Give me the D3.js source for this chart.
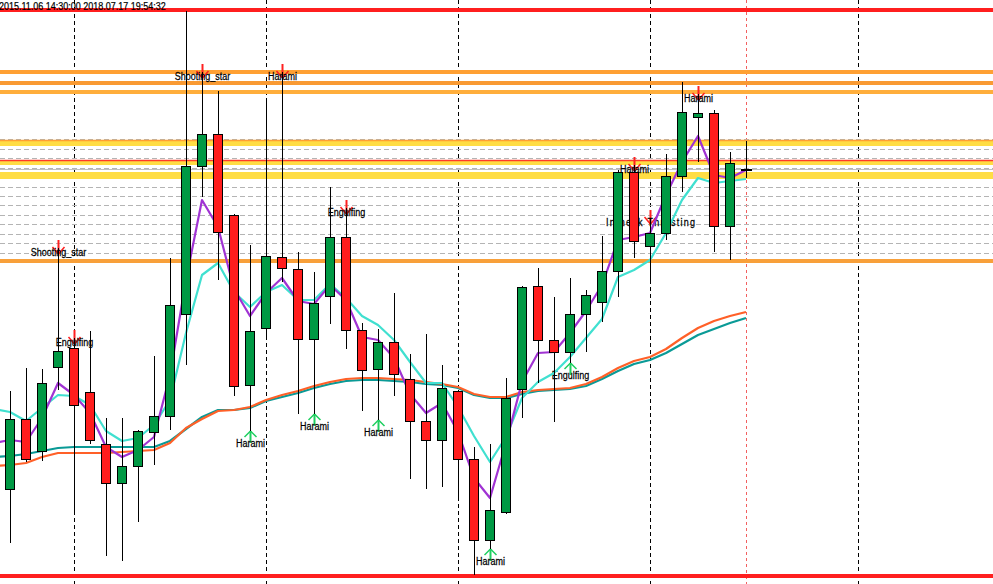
<!DOCTYPE html>
<html>
<head>
<meta charset="utf-8">
<script src="https://cdn.jsdelivr.net/npm/d3@7"></script>
<style>
  html, body { margin: 0; padding: 0; background: #fff; overflow: hidden; }
  svg { display: block; }
  text { font-family: "Liberation Sans", Arial, sans-serif; font-size: 11px; fill: #000; }
</style>
</head>
<body>
<div id="chart"></div>
<script>
// ---- Data (prices) ----
const openP  = [1.1511,1.1581,1.1549,1.1633,1.1652,1.1608,1.1556,1.1517,1.1534,1.1568,
                1.1584,1.1686,1.1834,1.1866,1.1785,1.1615,1.1672,1.1743,1.1731,1.1661,
                1.1704,1.1763,1.1670,1.1631,1.1658,1.1621,1.1579,1.1560,1.1609,1.1541,
                1.1460,1.1488,1.1611,1.1714,1.1660,1.1648,1.1686,1.1698,1.1729,1.1828,
                1.1754,1.1767,1.1824,1.1883,1.1887,1.1774,1.1830];
const highP  = [1.1609,1.1632,1.1631,1.1752,1.1662,1.1669,1.1582,1.1582,1.1570,1.1644,
                1.1742,1.1989,1.1928,1.1909,1.1786,1.1755,1.1899,1.1928,1.1748,1.1728,
                1.1813,1.1792,1.1677,1.1671,1.1707,1.1646,1.1666,1.1635,1.1610,1.1553,
                1.1556,1.1622,1.1714,1.1732,1.1703,1.1722,1.1710,1.1764,1.1830,1.1835,
                1.1782,1.1846,1.1918,1.1906,1.1890,1.1848,1.1859];
const lowP   = [1.1457,1.1538,1.1539,1.1610,1.1488,1.1556,1.1444,1.1439,1.1478,1.1535,
                1.1570,1.1635,1.1803,1.1720,1.1604,1.1569,1.1662,1.1718,1.1586,1.1586,
                1.1676,1.1651,1.1589,1.1580,1.1604,1.1521,1.1511,1.1513,1.1501,1.1425,
                1.1451,1.1486,1.1582,1.1617,1.1578,1.1637,1.1648,1.1678,1.1703,1.1742,
                1.1717,1.1760,1.1808,1.1838,1.1748,1.1740,1.1822];
const closeP = [1.1581,1.1541,1.1617,1.1649,1.1595,1.1560,1.1517,1.1534,1.1569,1.1584,
                1.1695,1.1834,1.1866,1.1768,1.1614,1.1669,1.1744,1.1732,1.1661,1.1697,
                1.1763,1.1670,1.1630,1.1658,1.1626,1.1579,1.1560,1.1612,1.1541,1.1460,
                1.1490,1.1602,1.1713,1.1660,1.1648,1.1686,1.1705,1.1729,1.1828,1.1759,
                1.1767,1.1824,1.1888,1.1887,1.1774,1.1837,1.1830];

// moving averages, first value belongs to the bar left of the screen
const maFast = [1.1557,1.1560,1.1558,1.1582,1.1617,1.1605,1.1587,1.1553,1.1543,1.1550,
                1.1563,1.1625,1.1720,1.1800,1.1773,1.1711,1.1684,1.1707,1.1722,1.1699,
                1.1696,1.1715,1.1700,1.1663,1.1660,1.1642,1.1606,1.1587,1.1597,1.1568,
                1.1522,1.1502,1.1557,1.1618,1.1647,1.1648,1.1667,1.1689,1.1715,1.1760,
                1.1763,1.1767,1.1805,1.1838,1.1864,1.1825,1.1822,1.1830];
const maMid  = [1.1591,1.1588,1.1579,1.1592,1.1605,1.1604,1.1595,1.1569,1.1559,1.1562,
                1.1575,1.1600,1.1667,1.1725,1.1737,1.1708,1.1693,1.1708,1.1715,1.1700,
                1.1700,1.1716,1.1702,1.1684,1.1675,1.1660,1.1638,1.1617,1.1617,1.1593,
                1.1564,1.1538,1.1563,1.1602,1.1618,1.1627,1.1643,1.1662,1.1681,1.1723,
                1.1730,1.1740,1.1767,1.1800,1.1822,1.1817,1.1819,1.1821];
const maSlowA = [1.1534,1.1535,1.1537,1.1543,1.1547,1.1547,1.1547,1.1547,1.1548,1.1549,
                 1.1550,1.1557,1.1572,1.1581,1.1589,1.1590,1.1593,1.1600,1.1605,1.1609,
                 1.1614,1.1618,1.1621,1.1622,1.1622,1.1621,1.1620,1.1618,1.1616,1.1613,
                 1.1606,1.1603,1.1603,1.1608,1.1610,1.1611,1.1612,1.1616,1.1623,1.1632,
                 1.1639,1.1643,1.1651,1.1662,1.1672,1.1679,1.1684,1.1688];
const maSlowB = [1.1543,1.1544,1.1546,1.1549,1.1552,1.1553,1.1553,1.1553,1.1553,1.1553,
                 1.1553,1.1559,1.1571,1.1583,1.1590,1.1590,1.1592,1.1599,1.1603,1.1607,
                 1.1612,1.1616,1.1619,1.1620,1.1620,1.1619,1.1618,1.1616,1.1615,1.1612,
                 1.1605,1.1602,1.1602,1.1606,1.1609,1.1610,1.1611,1.1614,1.1621,1.1629,
                 1.1636,1.1640,1.1647,1.1656,1.1665,1.1671,1.1677,1.1682];

// candle pattern marks
const patternBars  = [3, 4, 12, 15, 17, 19, 21, 23, 30, 35, 39, 40, 43];
const patternNames = ["Shooting_star", "Engulfing", "Shooting_star", "Harami", "Harami", "Harami",
                      "Engulfing", "Harami", "Harami", "Engulfing", "Harami", "In neck Thrusting", "Harami"];
const patternDirs  = [-1, -1, -1, 1, -1, 1, -1, 1, 1, 1, -1, -1, -1];

// chart objects
const redLevels    = [1.1990, 1.1424];
const orangeLevels = [1.1928, 1.1917, 1.1908, 1.1739];
const yellowBands  = [[1.1860, 1.1854], [1.1839, 1.1835], [1.1828, 1.1821]];
const thinLevels   = [1.1860, 1.1840];
const gridLevels   = [1.1861, 1.18515, 1.1842, 1.18325, 1.1823, 1.18135, 1.1804,
                      1.17945, 1.1785, 1.17755, 1.1766, 1.17565, 1.1747, 1.17375];
const separatorBars = [4, 16, 28, 40, 53];
const currentBar = 46;
const headerText = "2015.11.06 14:30:00 2018.07.17 19:54:32";

// ---- Layout ----
const width = 993, height = 584;
const orangeColors = ["#ffa033", "#f99a33", "#ffae3c", "#f8a03a"];
const thinColors = ["#ffa033", "#ff3a2a"];
const textScale = 0.82;

const x = d3.scaleLinear().domain([0, 61]).range([10, 986]);
const y = d3.scaleLinear().domain([1.2000, 1.1416]).range([0, height]);
const px = i => Math.round(x(i));
const py = v => Math.round(y(v));

const svg = d3.select("#chart").append("svg")
  .attr("width", width)
  .attr("height", height);

// time separators
svg.append("g").selectAll("line").data(separatorBars).join("line")
  .attr("x1", d => px(d) + 0.5).attr("x2", d => px(d) + 0.5)
  .attr("y1", 0).attr("y2", height)
  .attr("stroke", "#000").attr("stroke-dasharray", "4,3");

// current time line
svg.append("line")
  .attr("x1", px(currentBar) + 0.5).attr("x2", px(currentBar) + 0.5)
  .attr("y1", 0).attr("y2", height)
  .attr("stroke", "#f26060").attr("stroke-dasharray", "3,3");

// dashed levels
svg.append("g").selectAll("line").data(gridLevels).join("line")
  .attr("x1", 0).attr("x2", width)
  .attr("y1", d => py(d) + 0.5).attr("y2", d => py(d) + 0.5)
  .attr("stroke", "#b4b4b4").attr("stroke-dasharray", "5,3");

// bid line
svg.append("line")
  .attr("x1", 0).attr("x2", width)
  .attr("y1", py(closeP[currentBar]) - 0.5).attr("y2", py(closeP[currentBar]) - 0.5)
  .attr("stroke", "#c0c0c0");

// yellow zones
svg.append("g").selectAll("rect").data(yellowBands).join("rect")
  .attr("x", 0).attr("width", width)
  .attr("y", d => py(d[0]))
  .attr("height", d => py(d[1]) - py(d[0]))
  .attr("fill", "#ffdd44");

svg.append("g").selectAll("line").data(thinLevels).join("line")
  .attr("x1", 0).attr("x2", width)
  .attr("y1", d => py(d) + 0.5).attr("y2", d => py(d) + 0.5)
  .attr("stroke", (d, i) => thinColors[i]).attr("stroke-width", 1.5);

svg.append("g").selectAll("line").data(orangeLevels).join("line")
  .attr("x1", 0).attr("x2", width)
  .attr("y1", d => py(d)).attr("y2", d => py(d))
  .attr("stroke", (d, i) => orangeColors[i]).attr("stroke-width", 4);

svg.append("g").selectAll("line").data(redLevels).join("line")
  .attr("x1", 0).attr("x2", width)
  .attr("y1", d => py(d)).attr("y2", d => py(d))
  .attr("stroke", "#ff1f1f").attr("stroke-width", 4);

// pattern labels and arrows
const marks = svg.append("g");
patternBars.forEach((b, k) => {
  const cx = px(b) + 0.5;
  const up = patternDirs[k] > 0;
  const col = up ? "#1fcf60" : "#ff2020";
  let base, stem, arms;
  if (up) {
    const ly = py(lowP[b]);
    stem = [ly, ly + 12];
    arms = `M${cx - 6},${ly + 6}L${cx},${ly}L${cx + 6},${ly + 6}`;
    base = ly + 16;
  } else {
    const hy = py(highP[b]);
    stem = [hy - 8, hy + 6];
    arms = `M${cx - 6},${hy - 1}L${cx},${hy + 6}L${cx + 6},${hy - 1}`;
    base = hy + 8;
  }
  marks.append("line")
    .attr("x1", cx).attr("x2", cx).attr("y1", stem[0]).attr("y2", stem[1])
    .attr("stroke", col).attr("stroke-width", 2);
  marks.append("path").attr("d", arms)
    .attr("fill", "none").attr("stroke", col).attr("stroke-width", 1.5);
  const t = marks.append("text")
    .attr("transform", `translate(${cx},${base}) scale(${textScale},1)`)
    .attr("text-anchor", "middle")
    .attr("stroke", "#000").attr("stroke-width", 0.25)
    .text(patternNames[k]);
  // the long combined label is spread wider in the reference
  if (patternNames[k].length > 14) {
    t.attr("textLength", 89 / textScale).attr("lengthAdjust", "spacing");
  }
});

// moving averages
const maBars = d3.range(-1, openP.length);
const line = d3.line().x((d, i) => px(maBars[i])).y(d => y(d));
[[maSlowB, "#0a9a96"], [maSlowA, "#ff6028"], [maMid, "#40e0d0"], [maFast, "#a033d3"]]
  .forEach(([vals, col]) => {
    svg.append("path").datum(vals)
      .attr("d", line)
      .attr("fill", "none")
      .attr("stroke", col)
      .attr("stroke-width", 2.2)
      .attr("stroke-linejoin", "round");
  });

// candles
const bars = d3.range(openP.length);
const cg = svg.append("g").attr("shape-rendering", "crispEdges");

cg.selectAll("line.wick").data(bars).join("line")
  .attr("class", "wick")
  .attr("x1", i => px(i) + 0.5).attr("x2", i => px(i) + 0.5)
  .attr("y1", i => py(highP[i])).attr("y2", i => py(lowP[i]))
  .attr("stroke", "#000");

const bodies = bars.filter(i => py(openP[i]) !== py(closeP[i]));
cg.selectAll("rect").data(bodies).join("rect")
  .attr("x", i => px(i) - 4.5)
  .attr("width", 9)
  .attr("y", i => py(Math.max(openP[i], closeP[i])) + 0.5)
  .attr("height", i => Math.abs(py(openP[i]) - py(closeP[i])))
  .attr("fill", i => closeP[i] > openP[i] ? "#009944" : "#ff1d1d")
  .attr("stroke", "#000");

const dojis = bars.filter(i => py(openP[i]) === py(closeP[i]));
cg.selectAll("line.doji").data(dojis).join("line")
  .attr("class", "doji")
  .attr("x1", i => px(i) - 5).attr("x2", i => px(i) + 6)
  .attr("y1", i => py(closeP[i])).attr("y2", i => py(closeP[i]))
  .attr("stroke", "#000").attr("stroke-width", 2);

// header (kept just inside the top edge)
svg.append("text")
  .attr("transform", "translate(-1,9.5) scale(0.9,1)")
  .style("font-size", "10px")
  .attr("stroke", "#000").attr("stroke-width", 0.2)
  .text(headerText);
</script>
</body>
</html>
